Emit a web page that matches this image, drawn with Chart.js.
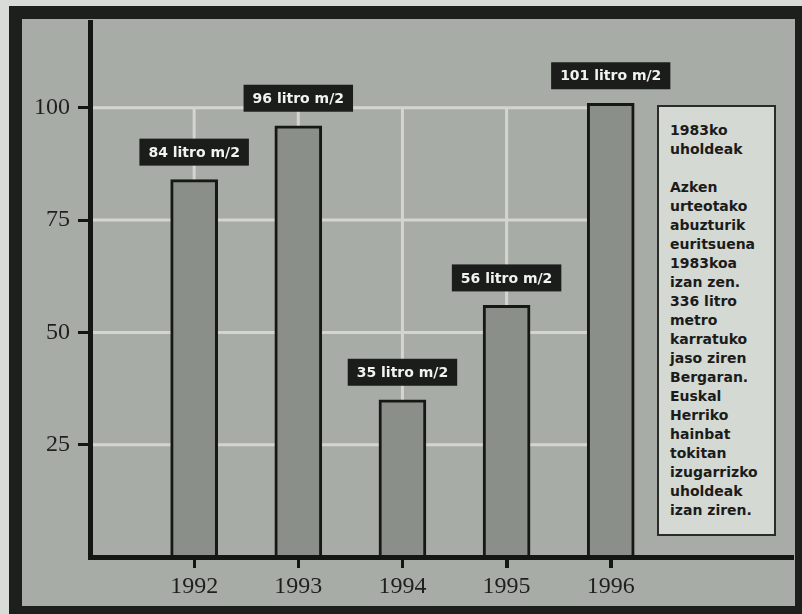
<!DOCTYPE html>
<html>
<head>
<meta charset="utf-8">
<script src="https://cdn.jsdelivr.net/npm/chart.js@4.4.1/dist/chart.umd.min.js"></script>
<style>
html, body { margin: 0; padding: 0; background: #d8dcd6; }
#wrap { position: relative; width: 802px; height: 614px; }
#note {
    position: absolute; left: 657px; top: 105px;
    width: 119px; height: 431px; box-sizing: border-box;
    border: 2px solid #2a2c29; background: #d5d9d3;
    padding: 14px 0 0 11px;
    font: bold 14px "DejaVu Sans"; line-height: 19px; color: #1b1c1a;
    white-space: nowrap;
}
</style>
</head>
<body>
<div id="wrap">
    <canvas id="myChart" width="802" height="614"></canvas>
    <div id="note"></div>
</div>
<script>
// years and rainfall (litro m/2)
var years = [1992, 1993, 1994, 1995, 1996];
var rain = [84, 96, 35, 56, 101];
var yTicks = [25, 50, 75, 100];
var noteLines = ["1983ko", "uholdeak", "", "Azken", "urteotako", "abuzturik", "euritsuena",
    "1983koa", "izan zen.", "336 litro", "metro", "karratuko", "jaso ziren", "Bergaran.",
    "Euskal", "Herriko", "hainbat", "tokitan", "izugarrizko", "uholdeak", "izan ziren."];

document.getElementById("note").innerHTML = noteLines.join("<br>");

var points = years.map(function (y, i) { return { x: y, y: rain[i] }; });

// frame + grey panel behind everything
var framePlugin = {
    id: 'frame',
    beforeDraw: function (chart) {
        var c = chart.ctx;
        c.save();
        c.fillStyle = "#d8dcd6";
        c.fillRect(0, 0, 802, 614);
        c.fillStyle = "#1d1f1c";
        c.fillRect(9, 6, 793, 608);
        c.fillStyle = "#a8aca6";
        c.fillRect(22, 19, 773, 587);
        c.restore();
    },
    // short tick marks under the x axis
    afterDraw: function (chart) {
        var c = chart.ctx, xs = chart.scales.x;
        c.save();
        c.strokeStyle = "#141613";
        c.lineWidth = 3;
        c.beginPath();
        years.forEach(function (yr) {
            var x = Math.round(xs.getPixelForValue(yr)) + 0.5;
            c.moveTo(x, xs.top);
            c.lineTo(x, xs.top + 11);
        });
        c.stroke();
        c.restore();
    }
};

// white grid only inside the data range (up to 100, up to the last year)
var gridPlugin = {
    id: 'dataGrid',
    beforeDatasetsDraw: function (chart) {
        var c = chart.ctx, xs = chart.scales.x, ys = chart.scales.y;
        var top = ys.getPixelForValue(yTicks[yTicks.length - 1]);
        var bottom = ys.getPixelForValue(0);
        var right = xs.getPixelForValue(years[years.length - 1]);
        c.save();
        c.strokeStyle = "#d3d6d0";
        c.lineWidth = 3;
        c.beginPath();
        yTicks.forEach(function (v) {
            var y = ys.getPixelForValue(v);
            c.moveTo(chart.chartArea.left, y);
            c.lineTo(right, y);
        });
        years.forEach(function (yr) {
            var x = xs.getPixelForValue(yr);
            c.moveTo(x, top - 1.5);
            c.lineTo(x, bottom);
        });
        c.stroke();
        c.restore();
    }
};

// black boxes with the value above each bar
var labelPlugin = {
    id: 'valueBoxes',
    afterDatasetsDraw: function (chart) {
        var c = chart.ctx;
        var bars = chart.getDatasetMeta(0).data;
        c.save();
        c.font = "bold 14px 'DejaVu Sans'";
        c.textAlign = "center";
        c.textBaseline = "middle";
        bars.forEach(function (bar, i) {
            var txt = rain[i] + " litro m/2";
            var w = c.measureText(txt).width + 18;
            var h = 27;
            var bottom = bar.y - 14;
            c.fillStyle = "#1b1d1a";
            c.fillRect(bar.x - w / 2, bottom - h, w, h);
            c.fillStyle = "#f2f3f0";
            c.fillText(txt, bar.x, bottom - h / 2 + 1);
        });
        c.restore();
    }
};

var ctx = document.getElementById("myChart");
var myChart = new Chart(ctx, {
    type: 'bar',
    data: {
        datasets: [
            {
                data: points,
                backgroundColor: "#8b8f8a",
                borderColor: "#161815",
                borderWidth: 3,
                barThickness: 47
            }
        ]
    },
    options: {
        responsive: false,
        animation: false,
        devicePixelRatio: 1,
        layout: { padding: { left: 22, top: 19, right: 9, bottom: 8 } },
        plugins: {
            legend: { display: false },
            tooltip: { enabled: false }
        },
        scales: {
            x: {
                type: 'linear',
                offset: false,
                min: 1991,
                max: 1997.75,
                afterBuildTicks: function (s) { s.ticks = years.map(function (v) { return { value: v }; }); },
                afterFit: function (s) { s.height = 49; },
                border: { color: "#141613", width: 5, z: 1 },
                grid: { offset: false, drawOnChartArea: false, tickLength: 11, tickWidth: 3, tickColor: "#141613" },
                ticks: {
                    padding: 4,
                    color: "#1f201e",
                    font: { family: "Liberation Serif", size: 24 },
                    callback: function (v) { return String(v); }
                }
            },
            y: {
                min: 0,
                max: 119,
                afterBuildTicks: function (s) { s.ticks = yTicks.map(function (v) { return { value: v }; }); },
                afterFit: function (s) { s.width = 68; },
                border: { color: "#141613", width: 5, z: 1 },
                grid: { drawOnChartArea: false, tickLength: 12, tickWidth: 3, tickColor: "#141613" },
                ticks: {
                    padding: 8,
                    color: "#1f201e",
                    font: { family: "Liberation Serif", size: 24 }
                }
            }
        }
    },
    plugins: [framePlugin, gridPlugin, labelPlugin]
});
</script>
</body>
</html>
